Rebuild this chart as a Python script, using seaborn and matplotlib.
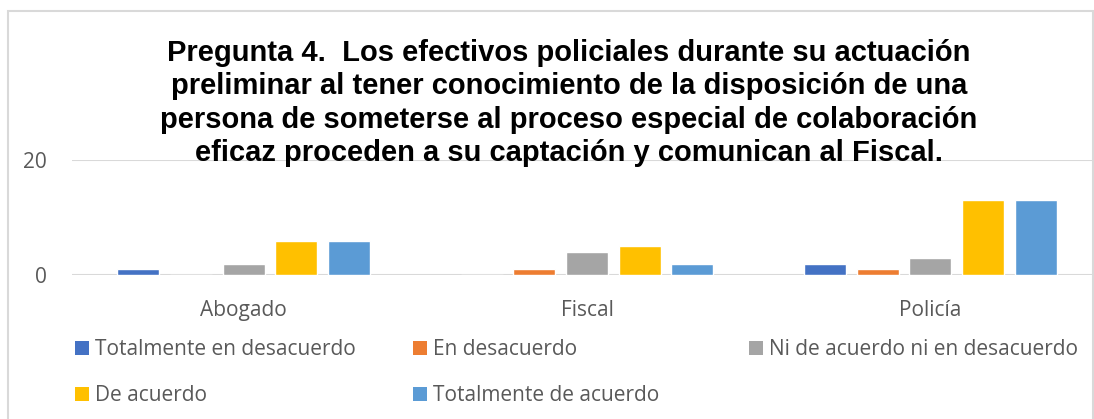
import matplotlib
matplotlib.use("Agg")
import matplotlib.pyplot as plt
import seaborn as sns
import pandas as pd
from matplotlib.patches import Patch, Rectangle

categorias = ["Abogado", "Fiscal", "Policía"]
series = ["Totalmente en desacuerdo", "En desacuerdo", "Ni de acuerdo ni en desacuerdo",
          "De acuerdo", "Totalmente de acuerdo"]
totalmente_desacuerdo = [1, 0, 2]
en_desacuerdo = [0, 1, 1]
ni_ni = [2, 4, 3]
de_acuerdo = [6, 5, 13]
totalmente_acuerdo = [6, 2, 13]
colores = ["#4472C4", "#ED7D31", "#A5A5A5", "#FFC000", "#5B9BD5"]
titulo = ("Pregunta 4.  Los efectivos policiales durante su actuación\n"
          "preliminar al tener conocimiento de la disposición de una\n"
          "persona de someterse al proceso especial de colaboración\n"
          "eficaz proceden a su captación y comunican al Fiscal.")

valores = [totalmente_desacuerdo, en_desacuerdo, ni_ni, de_acuerdo, totalmente_acuerdo]
rows = []
for s, vals in zip(series, valores):
    for c, v in zip(categorias, vals):
        rows.append({"cat": c, "serie": s, "val": v})
df = pd.DataFrame(rows)

sns.set_theme(style="white")
plt.rcParams["font.family"] = ["Open Sans", "DejaVu Sans"]

W, H = 1094, 419
fig = plt.figure(figsize=(W / 100, H / 100), dpi=100)
ax = fig.add_axes([72 / W, 1 - 275 / H, 1030 / W, 115 / H])

sns.barplot(data=df, x="cat", y="val", hue="serie", hue_order=series,
            order=categorias, palette=colores, width=0.767, gap=0.2,
            legend=False, ax=ax, saturation=1, errorbar=None)

ax.set_ylim(0, 20)
ax.set_yticks([0, 20])
ax.yaxis.grid(True, color="#D9D9D9", linewidth=1.5)
ax.set_axisbelow(True)
for sp in ax.spines.values():
    sp.set_visible(False)
ax.set_xlabel("")
ax.set_ylabel("")
ax.tick_params(axis="both", length=0, labelsize=15, colors="#595959")
ax.tick_params(axis="y", pad=18)
ax.tick_params(axis="x", pad=18)

fig.text(569 / W, 1 - 39 / H, titulo, ha="center", va="top", fontsize=21,
         fontweight="bold", family="Liberation Sans", color="black",
         linespacing=1.24)

fig.patches.append(Rectangle((8 / W, -0.05), (1093 - 8) / W, 1.05 - 11 / H,
                             transform=fig.transFigure, fill=False,
                             edgecolor="#D9D9D9", linewidth=1.5))

handles = [Patch(facecolor=c, edgecolor="none") for c in colores]
cols = [([0, 3], 75), ([1, 4], 413), ([2], 749)]
for idx, x in cols:
    leg = fig.legend([handles[i] for i in idx], [series[i] for i in idx],
                     loc="upper left", bbox_to_anchor=(x / W, 1 - 339 / H),
                     frameon=False, fontsize=15, handlelength=0.67,
                     handleheight=0.67, handletextpad=0.3, labelspacing=1.2,
                     borderpad=0, borderaxespad=0, labelcolor="#595959")

fig.savefig("out.png", dpi=100)
